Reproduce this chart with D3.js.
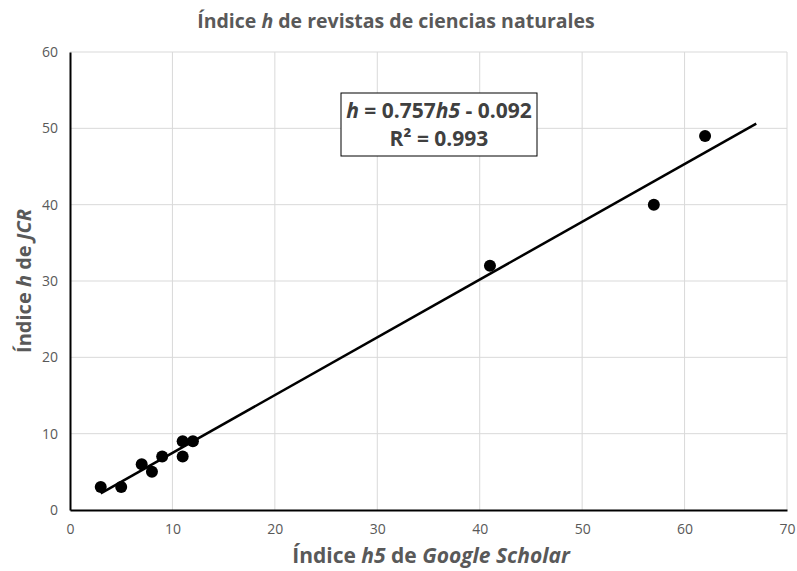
<!DOCTYPE html>
<html lang="es">
<head>
<meta charset="UTF-8">
<title>Índice h</title>
<script src="https://cdn.jsdelivr.net/npm/d3@7"></script>
<style>
  body { margin: 0; background: #fff; }
  text { font-family: "Open Sans", "Liberation Sans", sans-serif; }
</style>
</head>
<body>
<div id="chart"></div>
<script>
// Google Scholar h5 vs JCR h
const h5 = [3, 5, 7, 8, 9, 11, 11, 12, 41, 57, 62];
const hJCR = [3, 3, 6, 5, 7, 9, 7, 9, 32, 40, 49];
const xTicks = [0, 10, 20, 30, 40, 50, 60, 70];
const yTicks = [0, 10, 20, 30, 40, 50, 60];
const slope = 0.757, intercept = -0.092;
const trendRange = [3, 67];

const width = 797, height = 571;
const marginLeft = 70, marginRight = 10, marginTop = 52, marginBottom = 61;
const grey = "#595959";

const x = d3.scaleLinear().domain([0, 70]).range([marginLeft, width - marginRight]);
const y = d3.scaleLinear().domain([0, 60]).range([height - marginBottom, marginTop]);

const svg = d3.select("#chart").append("svg")
    .attr("width", width)
    .attr("height", height);

// gridlines
svg.append("g")
    .attr("stroke", "#d9d9d9")
    .attr("stroke-width", 1)
    .call(g => g.selectAll(".vx").data(xTicks.slice(1)).join("line")
        .attr("x1", d => x(d)).attr("x2", d => x(d))
        .attr("y1", y(0)).attr("y2", y(60)))
    .call(g => g.selectAll(".hy").data(yTicks.slice(1)).join("line")
        .attr("x1", x(0)).attr("x2", x(70))
        .attr("y1", d => y(d)).attr("y2", d => y(d)));

// axes
svg.append("g")
    .attr("transform", `translate(0,${y(0)})`)
    .call(d3.axisBottom(x).tickValues(xTicks).tickSize(0).tickPadding(14))
    .call(g => g.select(".domain").attr("stroke", "#000").attr("stroke-width", 2))
    .call(g => g.selectAll("text").attr("fill", grey).attr("font-size", 14));

svg.append("g")
    .attr("transform", `translate(${x(0)},0)`)
    .call(d3.axisLeft(y).tickValues(yTicks).tickSize(0).tickPadding(12))
    .call(g => g.select(".domain").attr("stroke", "#000").attr("stroke-width", 2))
    .call(g => g.selectAll("text").attr("fill", grey).attr("font-size", 14));

// trend line
svg.append("line")
    .attr("x1", x(trendRange[0])).attr("y1", y(slope * trendRange[0] + intercept))
    .attr("x2", x(trendRange[1])).attr("y2", y(slope * trendRange[1] + intercept))
    .attr("stroke", "#000")
    .attr("stroke-width", 2.5);

// points
svg.append("g")
    .selectAll("circle")
    .data(h5)
    .join("circle")
    .attr("cx", d => x(d))
    .attr("cy", (d, i) => y(hJCR[i]))
    .attr("r", 6)
    .attr("fill", "#000");

// title
const title = svg.append("text")
    .attr("x", 396).attr("y", 28)
    .attr("text-anchor", "middle")
    .attr("fill", grey)
    .attr("font-size", 19.5)
    .attr("font-weight", "bold");
title.append("tspan").text("Índice ");
title.append("tspan").attr("font-style", "italic").text("h");
title.append("tspan").text(" de revistas de ciencias naturales");

// x axis title
const xt = svg.append("text")
    .attr("x", 431).attr("y", 563)
    .attr("text-anchor", "middle")
    .attr("fill", grey)
    .attr("font-size", 21)
    .attr("font-weight", "bold");
xt.append("tspan").text("Índice ");
xt.append("tspan").attr("font-style", "italic").text("h5");
xt.append("tspan").text(" de ");
xt.append("tspan").attr("font-style", "italic").text("Google Scholar");

// y axis title
const yt = svg.append("text")
    .attr("transform", `translate(31,${(y(0) + y(60)) / 2}) rotate(-90)`)
    .attr("text-anchor", "middle")
    .attr("fill", grey)
    .attr("font-size", 20)
    .attr("font-weight", "bold");
yt.append("tspan").text("Índice ");
yt.append("tspan").attr("font-style", "italic").text("h");
yt.append("tspan").text(" de ");
yt.append("tspan").attr("font-style", "italic").text("JCR");

// equation box
const box = svg.append("g").attr("transform", "translate(341,93)");
box.append("rect")
    .attr("width", 196).attr("height", 63)
    .attr("fill", "#fff")
    .attr("stroke", "#000")
    .attr("stroke-width", 1);
const eq = box.append("text")
    .attr("x", 98).attr("y", 25)
    .attr("text-anchor", "middle")
    .attr("fill", "#404040")
    .attr("font-size", 21)
    .attr("font-weight", "bold");
eq.append("tspan").attr("font-style", "italic").text("h");
eq.append("tspan").text(" = 0.757");
eq.append("tspan").attr("font-style", "italic").text("h5");
eq.append("tspan").text(" - 0.092");
box.append("text")
    .attr("x", 98).attr("y", 53)
    .attr("text-anchor", "middle")
    .attr("fill", "#404040")
    .attr("font-size", 21)
    .attr("font-weight", "bold")
    .text("R² = 0.993");
</script>
</body>
</html>
